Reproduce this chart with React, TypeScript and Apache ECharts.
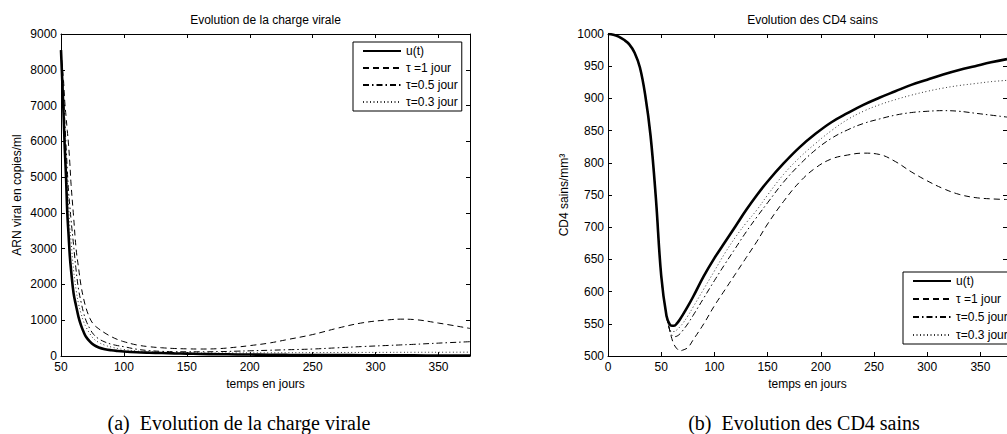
import React, { useEffect, useRef } from "react";
import * as echarts from "echarts";

// ---- Data: (a) viral load ----
const tA = [50, 51, 52, 53, 54, 55, 56, 57, 58, 60, 62, 64, 66, 68, 70, 73, 76, 80, 85, 90, 95, 100, 110, 120, 130, 140, 150, 160, 175, 190, 200, 215, 230, 250, 270, 290, 310, 320, 330, 350, 375];
const uA = [8550, 7700, 6800, 5800, 5000, 4000, 3400, 2800, 2400, 1750, 1400, 1080, 850, 670, 530, 400, 310, 240, 190, 160, 140, 125, 105, 92, 82, 72, 65, 58, 50, 44, 40, 36, 32, 28, 25, 22, 19, 18, 17, 15, 12];
const tau1A = [8550, 8100, 7700, 7100, 6700, 6300, 5900, 5400, 4800, 3900, 3000, 2450, 1950, 1600, 1330, 1050, 880, 760, 640, 540, 460, 400, 310, 260, 230, 210, 200, 195, 205, 250, 290, 360, 460, 600, 780, 930, 1010, 1030, 1020, 920, 770];
const tau05A = [8550, 7900, 7300, 6600, 5900, 5200, 4600, 4200, 3800, 3100, 2400, 1850, 1500, 1200, 980, 760, 600, 480, 390, 330, 290, 260, 190, 150, 130, 120, 118, 118, 122, 135, 145, 160, 175, 195, 230, 265, 295, 310, 325, 360, 400];
const tau03A = [8550, 7800, 7000, 6200, 5500, 4800, 4200, 3600, 3200, 2400, 1850, 1450, 1180, 960, 800, 620, 480, 380, 300, 250, 210, 180, 140, 115, 100, 92, 88, 86, 85, 86, 88, 90, 92, 95, 98, 100, 102, 103, 104, 105, 108];

// ---- Data: (b) healthy CD4 ----
const tB = [0, 5, 10, 15, 20, 25, 30, 35, 40, 45, 50, 55, 58, 60, 62, 65, 68, 70, 75, 80, 90, 100, 110, 120, 130, 140, 150, 165, 180, 195, 210, 225, 240, 255, 270, 285, 300, 315, 330, 345, 360, 375];
const uB = [1000, 999, 996, 991, 984, 971, 948, 905, 842, 745, 625, 562, 549, 547, 547, 551, 558, 563, 577, 592, 624, 652, 677, 702, 727, 750, 771, 799, 824, 845, 863, 877, 890, 901, 911, 921, 929, 937, 944, 950, 956, 961];
const tau1B = [1000, 999, 996, 991, 984, 971, 948, 905, 842, 745, 625, 562, 540, 527, 518, 511, 508, 509, 513, 525, 550, 578, 603, 628, 653, 678, 705, 740, 770, 792, 806, 812, 815, 813, 802, 786, 772, 760, 751, 746, 744, 743];
const tau05B = [1000, 999, 996, 991, 984, 971, 948, 905, 842, 745, 625, 562, 540, 532, 530, 531, 535, 539, 550, 563, 590, 617, 643, 668, 693, 716, 738, 770, 797, 820, 838, 851, 861, 868, 874, 878, 880, 881, 880, 877, 874, 871];
const tau03B = [1000, 999, 996, 991, 984, 971, 948, 905, 842, 745, 625, 562, 542, 538, 538, 541, 546, 550, 562, 576, 604, 632, 660, 685, 707, 727, 750, 782, 808, 830, 850, 867, 880, 890, 898, 905, 911, 916, 920, 923, 926, 928];

const seriesNames = ["u(t)", "\u03c4 =1 jour", "\u03c4=0.5 jour", "\u03c4=0.3 jour"];
const xTicksA = { min: 50, max: 375, interval: 50 };
const yTicksA = { min: 0, max: 9000, interval: 1000 };
const xTicksB = { min: 0, max: 375, interval: 50 };
const yTicksB = { min: 500, max: 1000, interval: 50 };

const SANS = "'Liberation Sans', Arial, Helvetica, sans-serif";
const SERIF = "'Liberation Serif', 'Times New Roman', serif";

const lineStyles = [
  { color: "#000", width: 2.6, type: "solid" as any },
  { color: "#000", width: 1, type: [6, 4] as any },
  { color: "#000", width: 1, type: [6, 3, 1.5, 3] as any },
  { color: "#333", width: 1, type: [1, 2.5] as any },
];

function mkSeries(ts: number[], vals: number[][], xIdx: number, yIdx: number) {
  return vals.map((v, k) => ({
    type: "line",
    name: seriesNames[k],
    xAxisIndex: xIdx,
    yAxisIndex: yIdx,
    data: ts.map((t, i) => [t, v[i]]),
    symbol: "none",
    showSymbol: false,
    smooth: 0.4,
    clip: true,
    color: "#000",
    itemStyle: { color: "#000" },
    lineStyle: lineStyles[k],
    z: 10 - k,
  }));
}

const plainNum = (v: number) => String(v);

function xAxes(range: any, gridIndex: number) {
  const base = {
    type: "value",
    gridIndex,
    ...range,
    splitLine: { show: false },
    axisLine: { show: true, onZero: false, lineStyle: { color: "#000", width: 1 } },
    axisTick: { show: true, inside: true, length: 4, lineStyle: { color: "#000" } },
  };
  return [
    {
      ...base,
      position: "bottom",
      name: "temps en jours",
      nameLocation: "middle",
      nameGap: 21,
      nameTextStyle: { fontSize: 12, color: "#000", fontFamily: SANS },
      axisLabel: { fontSize: 12, color: "#000", fontFamily: SANS, margin: 5, showMaxLabel: false, formatter: plainNum },
    },
    { ...base, position: "top", axisLabel: { show: false } },
  ];
}

function yAxes(range: any, gridIndex: number, name: string) {
  const base = {
    type: "value",
    gridIndex,
    ...range,
    splitLine: { show: false },
    axisLine: { show: true, onZero: false, lineStyle: { color: "#000", width: 1 } },
    axisTick: { show: true, inside: true, length: 4, lineStyle: { color: "#000" } },
  };
  return [
    {
      ...base,
      position: "left",
      name,
      nameLocation: "middle",
      nameGap: 38,
      nameTextStyle: { fontSize: 12, color: "#000", fontFamily: SANS },
      axisLabel: { fontSize: 12, color: "#000", fontFamily: SANS, margin: 4, formatter: plainNum },
    },
    { ...base, position: "right", axisLabel: { show: false } },
  ];
}

function legend(left: number, top: number, gap: number) {
  return {
    data: seriesNames,
    orient: "vertical",
    left,
    top,
    itemWidth: 38,
    itemHeight: 12,
    itemGap: gap,
    padding: [3, 4, 3, 9],
    borderColor: "#000",
    borderWidth: 1,
    borderRadius: 0,
    backgroundColor: "#fff",
    selectedMode: false,
    itemStyle: { opacity: 0, borderWidth: 0 },
    textStyle: { fontSize: 12, color: "#000", fontFamily: SANS },
  };
}

function txt(x: number, y: number, text: string, font: string) {
  return {
    type: "text",
    x,
    y,
    silent: true,
    style: {
      text,
      font,
      fill: "#000",
      align: "center",
      verticalAlign: "middle",
      textAlign: "center",
      textVerticalAlign: "middle",
    },
  };
}

export default function App() {
  const ref = useRef<HTMLDivElement>(null);
  useEffect(() => {
    if (!ref.current) return;
    const chart = echarts.init(ref.current, null, { renderer: "svg" });
    chart.setOption({
      animation: false,
      backgroundColor: "#fff",
      grid: [
        { left: 61, top: 34, width: 409, height: 322 },
        { left: 608, top: 34, width: 409, height: 322 },
      ],
      xAxis: [...xAxes(xTicksA, 0), ...xAxes(xTicksB, 1)],
      yAxis: [
        ...yAxes(yTicksA, 0, "ARN viral en copies/ml"),
        ...yAxes(yTicksB, 1, "CD4 sains/mm\u00b3"),
      ],
      legend: [legend(353, 42, 5), legend(903, 272, 6)],
      series: [
        ...mkSeries(tA, [uA, tau1A, tau05A, tau03A], 0, 0),
        ...mkSeries(tB, [uB, tau1B, tau05B, tau03B], 2, 2),
      ],
      graphic: [
        txt(265.5, 20, "Evolution de la charge virale", `12px ${SANS}`),
        txt(812.5, 20, "Evolution des CD4 sains", `12px ${SANS}`),
        txt(239, 423, "(a)  Evolution de la charge virale", `20px ${SERIF}`),
        txt(804, 423, "(b)  Evolution des CD4 sains", `20px ${SERIF}`),
      ],
    });
    return () => chart.dispose();
  }, []);
  return (
    <div style={{ position: "absolute", left: 0, top: 0, width: 1007, height: 434, overflow: "hidden", background: "#fff" }}>
      <div ref={ref} style={{ width: 1007, height: 434 }} />
    </div>
  );
}
